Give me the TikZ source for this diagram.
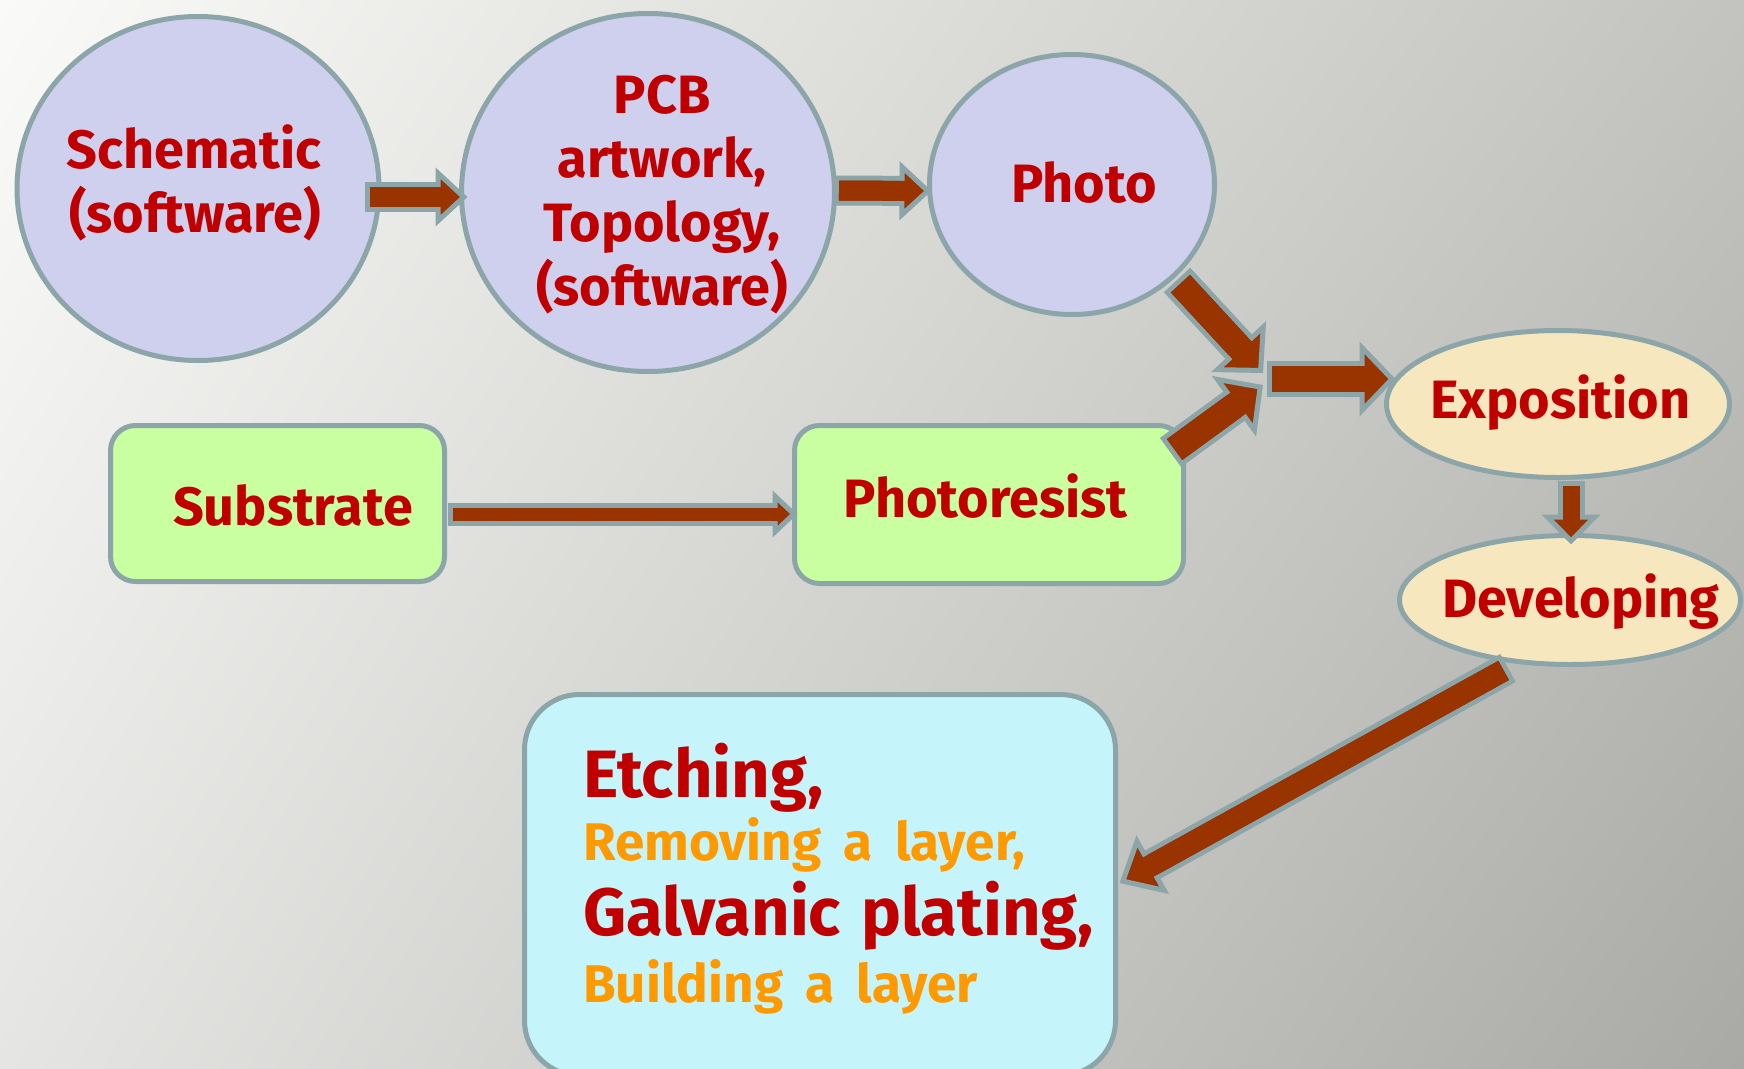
\documentclass[tikz,border=0pt]{standalone}
\usepackage{fontspec}
\setmainfont{Fira Sans}
\usetikzlibrary{arrows.meta,shapes.geometric,calc,shadings}
\definecolor{edgec}{HTML}{8CA5A8}
\definecolor{arrowfill}{HTML}{993300}
\definecolor{cblue}{HTML}{CFCFEE}
\definecolor{cyel}{HTML}{F7E7BE}
\definecolor{cgreen}{HTML}{C9FFA0}
\definecolor{ccyan}{HTML}{C6F4FB}
\definecolor{tred}{HTML}{C00000}
\definecolor{torange}{HTML}{FF9900}
\definecolor{bgTL}{HTML}{FAFAF8}
\definecolor{bgTR}{HTML}{C3C3BF}
\definecolor{bgBL}{HTML}{E5E5E3}
\definecolor{bgBR}{HTML}{A9A9A5}
\newcommand\blkarrow[6]{%
  \draw[edgec, line width=#2, shorten >=0.8*#4] #5 -- #6;
  \draw[arrowfill, line width=#1, shorten <=5pt,
    -{Triangle[length=#4, width=#3, color=edgec, fill=arrowfill, line width=5pt]}] #5 -- #6;
  \draw[arrowfill, line width=#1, shorten <=5pt, shorten >=0.8*#4] #5 -- #6;
}
\newcommand\bigtxt{\fontsize{67}{74}\selectfont\bfseries\spaceskip=0.3em\relax}
\newcommand\ortxt{\fontsize{53}{58}\selectfont\bfseries\spaceskip=0.42em\relax}
\begin{document}
\begin{tikzpicture}[x=1pt,y=-1pt,
  ell/.style={ellipse, draw=edgec, line width=5pt, inner sep=0pt},
  bluell/.style={ell, fill=cblue},
  yelell/.style={ell, fill=cyel},
  box/.style={rectangle, draw=edgec, line width=5pt, inner sep=0pt},
  greenbox/.style={box, fill=cgreen, rounded corners=25pt},
  cyanbox/.style={box, fill=ccyan, rounded corners=55pt},
  lbl/.style={text=tred, font=\fontsize{54}{60}\selectfont\bfseries, anchor=base, inner sep=0pt},
  biglbl/.style={text=tred, font=\bigtxt, anchor=base west, inner sep=0pt},
  orlbl/.style={text=torange, font=\ortxt, anchor=base west, inner sep=0pt}
]
\useasboundingbox (0,0) rectangle (1744,1068);
\clip (0,0) rectangle (1744,1068);
\shade[upper left=bgTL, upper right=bgTR, lower left=bgBL, lower right=bgBR] (0,0) rectangle (1744,1068);

% shapes
\node[bluell, minimum width=362pt, minimum height=344pt] (sch) at (198,188.5) {};
\node[bluell, minimum width=373pt, minimum height=358pt] (pcb) at (648,192.5) {};
\node[bluell, minimum width=285pt, minimum height=260pt] (photo) at (1072,184.5) {};
\node[yelell, minimum width=343pt, minimum height=147pt] (expo) at (1558,404) {};
\node[yelell, minimum width=341pt, minimum height=129pt] (devel) at (1570,600) {};
\node[greenbox, minimum width=334pt, minimum height=156pt] (subs) at (277.5,503.5) {};
\node[greenbox, minimum width=389pt, minimum height=158pt] (photores) at (989,504.5) {};
\node[cyanbox, minimum width=591pt, minimum height=381pt] (etch) at (820,885) {};
\coordinate (junc) at (1265,379);

% connectors
\blkarrow{20pt}{30pt}{58pt}{32pt}{([shift={(-17,8.5)}]sch.east)}{([shift={(8.5,4.5)}]pcb.west)}
\blkarrow{20pt}{30pt}{58pt}{32pt}{([shift={(-3,-2)}]pcb.east)}{([shift={(4.5,6.5)}]photo.west)}
\blkarrow{26pt}{36pt}{74pt}{36pt}{([shift={(105,95.5)}]photo.center)}{([shift={(-2,-6)}]junc)}
\blkarrow{26pt}{36pt}{74pt}{36pt}{([shift={(-15.5,29.5)}]photores.north east)}{([shift={(-2,6)}]junc)}
\blkarrow{26pt}{36pt}{74pt}{36pt}{([shift={(2,0)}]junc)}{([shift={(11.5,-25)}]expo.west)}
\blkarrow{17pt}{27pt}{58pt}{30pt}{([shift={(13,0.5)}]expo.south)}{([shift={(1,11.5)}]devel.north)}
\blkarrow{13pt}{23pt}{46pt}{25pt}{([shift={(0.5,10.5)}]subs.east)}{([shift={(5.5,9.5)}]photores.west)}
\blkarrow{22pt}{32pt}{66pt}{38pt}{([shift={(-62,68)}]devel.center)}{([shift={(1.5,-2)}]etch.east)}

% texts
\node[lbl] (tsch1) at (194,168) {Schematic};
\node[lbl] (tsch2) at (195,232) {(software)};
\node[lbl] (tpcb1) at (662,113) {PCB};
\node[lbl] (tpcb2) at (662,177) {artwork,};
\node[lbl] (tpcb3) at (662,241) {Topology,};
\node[lbl] (tpcb4) at (662,305) {(software)};
\node[lbl] (tphoto) at (1084,202) {Photo};
\node[lbl] (tsubs) at (293,525) {Substrate};
\node[lbl] (tphotores) at (985.5,517) {Photoresist};
\node[lbl] (texpo) at (1560.5,418) {Exposition};
\node[lbl] (tdevel) at (1581,617) {Developing};
\node[biglbl] (tetch1) at (583,797) {Etching,};
\node[orlbl] (tetch2) at (583,860) {Removing a layer,};
\node[biglbl] (tetch3) at (583,935) {Galvanic plating,};
\node[orlbl] (tetch4) at (583,1002) {Building a layer};
\end{tikzpicture}
\end{document}
